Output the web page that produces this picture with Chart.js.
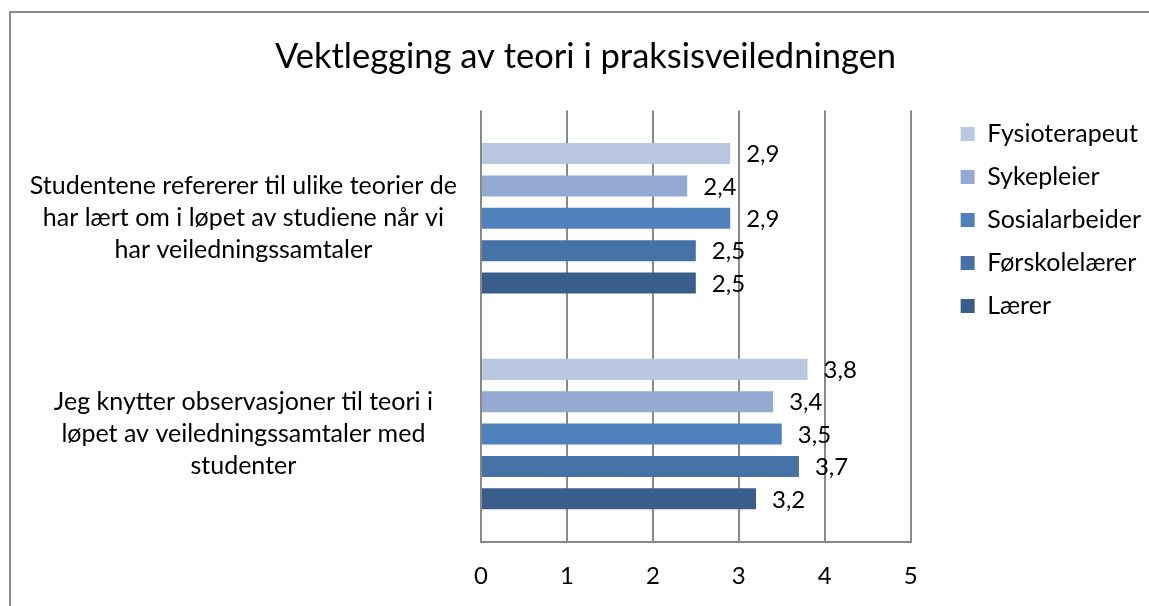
<!DOCTYPE html>
<html>
<head>
<meta charset="utf-8">
<script src="https://cdn.jsdelivr.net/npm/chart.js@4/dist/chart.umd.min.js"></script>
<style>
  html, body { margin: 0; padding: 0; background: #fff; overflow: hidden; }
  #wrap { width: 1149px; height: 606px; }
</style>
</head>
<body>
<div id="wrap"><canvas id="chart" width="1149" height="606"></canvas></div>
<script>
var categories = [
    ["Studentene refererer til ulike teorier de", "har lært om i løpet av studiene når vi", "har veiledningssamtaler"],
    ["Jeg knytter observasjoner til teori i", "løpet av veiledningssamtaler med", "studenter"]
];
var series_names = ["Fysioterapeut", "Sykepleier", "Sosialarbeider", "Førskolelærer", "Lærer"];
var fysioterapeut = [2.9, 3.8];
var sykepleier = [2.4, 3.4];
var sosialarbeider = [2.9, 3.5];
var forskolelaerer = [2.5, 3.7];
var laerer = [2.5, 3.2];
var x_ticks = [0, 1, 2, 3, 4, 5];

var colors = ["#b9c7e1", "#95aad3", "#4f81bd", "#4572a7", "#3a5e8c"];
var font_family = "Lato, 'Open Sans', sans-serif";

var all_values = [fysioterapeut, sykepleier, sosialarbeider, forskolelaerer, laerer];
var datasets = [];
for (var i = 0; i < series_names.length; i++) {
    datasets.push({
        label: series_names[i],
        data: all_values[i],
        backgroundColor: colors[i],
        categoryPercentage: 0.75,
        barPercentage: 0.65
    });
}

// frame lines (top and left) like the cropped excel chart border
var framePlugin = {
    id: 'frame',
    beforeDraw: function (chart) {
        var ctx = chart.ctx;
        ctx.save();
        ctx.fillStyle = '#fff';
        ctx.fillRect(0, 0, chart.width, chart.height);
        ctx.fillStyle = '#8c8c8c';
        ctx.fillRect(9, 11, chart.width, 2);
        ctx.fillRect(9, 11, 2, chart.height);
        ctx.restore();
    }
};

// nudge title and legend to where excel put them
var placeBoxes = {
    id: 'placeBoxes',
    afterLayout: function (chart) {
        var t = chart.titleBlock;
        if (t) {
            t.left += 21;
            t.right += 21;
        }
        var lg = chart.legend;
        if (lg) {
            lg.left = chart.chartArea.right + 32;
            lg.right = lg.left + lg.width;
            lg.top = chart.chartArea.top - 7;
            lg.bottom = lg.top + lg.height;
        }
    }
};

// value labels to the right of each bar, with comma decimals
var valueLabels = {
    id: 'valueLabels',
    afterDatasetsDraw: function (chart) {
        var ctx = chart.ctx;
        ctx.save();
        ctx.font = "24px " + font_family;
        ctx.fillStyle = '#000';
        ctx.textAlign = 'left';
        ctx.textBaseline = 'middle';
        chart.data.datasets.forEach(function (ds, di) {
            var meta = chart.getDatasetMeta(di);
            meta.data.forEach(function (bar, j) {
                var txt = ds.data[j].toFixed(1).replace('.', ',');
                ctx.fillText(txt, bar.x + 16, bar.y + 1);
            });
        });
        ctx.restore();
    }
};

var myChart = new Chart(document.getElementById("chart"), {
    type: 'bar',
    data: {
        labels: categories,
        datasets: datasets
    },
    plugins: [framePlugin, placeBoxes, valueLabels],
    options: {
        indexAxis: 'y',
        responsive: false,
        animation: false,
        layout: {
            padding: { left: 10, right: 30, top: 0, bottom: 0 }
        },
        plugins: {
            title: {
                display: true,
                text: "Vektlegging av teori i praksisveiledningen",
                color: '#000',
                font: { family: font_family, size: 34.5, weight: 'normal' },
                padding: { top: 36, bottom: 33 }
            },
            legend: {
                position: 'right',
                align: 'start',
                labels: {
                    color: '#000',
                    font: { family: font_family, size: 25 },
                    boxWidth: 14,
                    boxHeight: 14,
                    padding: 18
                }
            },
            tooltip: { enabled: false }
        },
        scales: {
            x: {
                min: 0,
                max: 5,
                afterBuildTicks: function (axis) {
                    axis.ticks = x_ticks.map(function (v) { return { value: v }; });
                },
                afterFit: function (axis) {
                    axis.height = 60;
                },
                grid: {
                    color: '#898989',
                    lineWidth: 2,
                    drawTicks: false
                },
                border: { color: '#898989', width: 2 },
                ticks: {
                    color: '#000',
                    padding: 20,
                    font: { family: font_family, size: 24 }
                }
            },
            y: {
                grid: { display: false },
                border: { display: false },
                afterFit: function (axis) {
                    axis.width = 471;
                },
                ticks: {
                    color: '#000',
                    crossAlign: 'center',
                    padding: 16,
                    font: { family: font_family, size: 25, lineHeight: 1.28 }
                }
            }
        }
    }
});
</script>
</body>
</html>
